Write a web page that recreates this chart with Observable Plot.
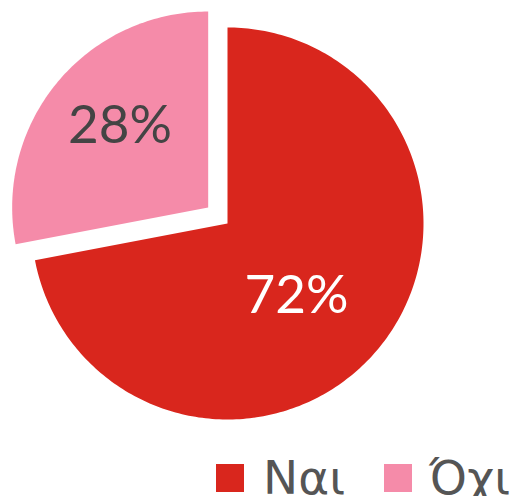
<!DOCTYPE html>
<html>
<head>
<meta charset="utf-8">
<script src="https://cdn.jsdelivr.net/npm/d3@7"></script>
<script src="https://cdn.jsdelivr.net/npm/@observablehq/plot@0.6"></script>
<style>
  body { margin: 0; background: #fff; font-family: Lato, "Open Sans", sans-serif; }
  #wrap { position: relative; width: 513px; height: 496px; overflow: hidden; }
  .sw { position: absolute; width: 28px; height: 28px; top: 464px; }
  .lt { position: absolute; top: 460px; font-family: "DejaVu Sans", sans-serif; font-size: 47px; line-height: 36px; color: #555; white-space: nowrap; }
</style>
</head>
<body>
<div id="wrap"><div id="chart"></div></div>
<script>
const categories = ["Ναι", "Όχι"];
const values = [72, 28];
const labels = ["72%", "28%"];
const colors = ["#d9261d", "#f58ba9"];
const exploded = [false, true];

const explodeDist = 0.128;
const total = d3.sum(values);
let acc = 0;
const slices = categories.map((name, i) => {
  const a0 = acc / total * 2 * Math.PI;
  acc += values[i];
  const a1 = acc / total * 2 * Math.PI;
  const mid = (a0 + a1) / 2;
  const off = exploded[i] ? explodeDist : 0;
  return {name, i, a0, a1, mid, cx: off * Math.sin(mid), cy: off * Math.cos(mid), label: labels[i]};
});

const pts = [];
for (const s of slices) {
  pts.push({name: s.name, x: s.cx, y: s.cy});
  const n = Math.max(2, Math.ceil((s.a1 - s.a0) / (Math.PI / 180)));
  for (let k = 0; k <= n; k++) {
    const a = s.a0 + (s.a1 - s.a0) * k / n;
    pts.push({name: s.name, x: s.cx + Math.sin(a), y: s.cy + Math.cos(a)});
  }
  pts.push({name: s.name, x: s.cx, y: s.cy});
}

const f = 0.55;
const lab = slices.map(s => ({...s, lx: s.cx + f * Math.sin(s.mid), ly: s.cy + f * Math.cos(s.mid)}));

const R = 196, CX = 227, CY = 223, W = 513, H = 450;
const chart = Plot.plot({
  width: W, height: H,
  margin: 0,
  x: {domain: [-CX / R, (W - CX) / R], axis: null},
  y: {domain: [(CY - H) / R, CY / R], axis: null},
  color: {domain: categories, range: colors},
  marks: [
    Plot.line(pts, {x: "x", y: "y", z: "name", fill: "name", stroke: "none", curve: "linear"}),
    Plot.text(lab.filter(d => d.i === 0), {x: "lx", y: "ly", text: "label", fill: "#fff", fontSize: 53, fontFamily: "Lato, sans-serif", fontWeight: 400, dx: -14, dy: 4}),
    Plot.text(lab.filter(d => d.i === 1), {x: "lx", y: "ly", text: "label", fill: "#444", fontSize: 53, fontFamily: "Lato, sans-serif", fontWeight: 400, dx: -5, dy: -13})
  ]
});
const wrap = document.getElementById("wrap");
document.getElementById("chart").appendChild(chart);

const swLeft = [216, 384], textLeft = [263, 429];
categories.forEach((c, i) => {
  const sw = document.createElement("div");
  sw.className = "sw";
  sw.style.left = swLeft[i] + "px";
  sw.style.background = colors[i];
  wrap.appendChild(sw);
  const t = document.createElement("div");
  t.className = "lt";
  t.style.left = textLeft[i] + "px";
  t.textContent = c;
  wrap.appendChild(t);
});
</script>
</body>
</html>
